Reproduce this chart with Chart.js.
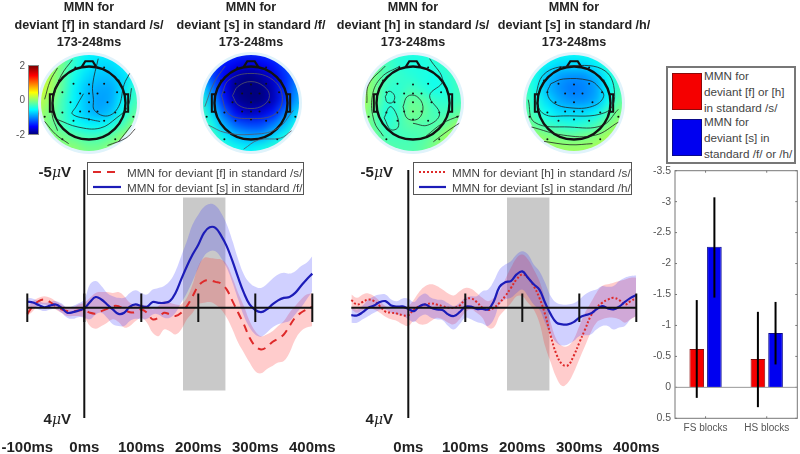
<!DOCTYPE html>
<html>
<head>
<meta charset="utf-8">
<script src="https://cdn.jsdelivr.net/npm/chart.js@4"></script>
<style>
  html, body { margin: 0; background: #fff; }
  #page { position: relative; width: 800px; height: 454px; overflow: hidden; font-family: "Liberation Sans", Arial, sans-serif; filter: blur(0.35px); }
  #page > * { position: absolute; }
  .title { width: 190px; text-align: center; font-weight: bold; font-size: 12.6px; line-height: 17.5px; color: #222; top: -1px; }
  .ylab { font-weight: bold; font-size: 15px; color: #222; white-space: nowrap; width: 60px; text-align: right; }
  .ylab i { font-family: "DejaVu Serif", serif; font-weight: normal; font-size: 14px; }
  .legend { border: 1px solid #555; background: #fff; height: 33px; box-sizing: border-box; font-size: 11.7px; color: #444; }
  .legend div { position: absolute; white-space: nowrap; line-height: 15px; }
  .legend svg { position: absolute; left: 0; top: 0; }
  .barlegend { left: 666px; top: 66px; width: 130px; height: 98px; box-sizing: border-box; border: 2px solid #777; background: #fff; font-size: 11.7px; color: #444; }
  .barlegend span { position: absolute; white-space: nowrap; left: 36px; line-height: 16px; }
  .swatch { position: absolute; left: 4px; width: 30px; height: 37px; box-sizing: border-box; }
  .cbar { left: 28px; top: 65px; width: 11px; height: 70px; box-sizing: border-box; border: 1px solid #888;
    background: linear-gradient(to top, #00007f 0%, #0000ff 11%, #00ffff 36%, #ffff00 61%, #ff0000 86%, #7f0000 100%); }
  .cbtick { left: 4px; width: 21px; text-align: right; font-size: 10px; color: #555; }
  .halo { width: 102px; height: 102px; border-radius: 50%; background: #e0f3fb; top: 52px; }
  .disk { width: 96px; height: 96px; border-radius: 50%; overflow: hidden; top: 55px; }
  .disk canvas { position: absolute; left: -10px; top: -10px; filter: blur(5px); }
</style>
</head>
<body>
<div id="page"></div>
<script>
// time axis of the two ERP panels (ms)
const timesMs = [-100,-90,-80,-70,-60,-50,-40,-30,-20,-10,0,10,20,30,40,50,60,70,80,90,100,110,120,130,140,150,160,170,180,190,200,210,220,230,240,250,260,270,280,290,300,310,320,330,340,350,360,370,380,390,400];
const tickMs = [-100,0,100,200,300,400];
const windowMs = [173,248];

// left panel, [f] vs [s] (microvolts, negative up)
const fsBlueMean = [-.22,-.19,-.10,-.02,-.08,-.12,0,.18,.16,.10,.02,-.21,-.39,-.30,-.12,.06,.22,.18,-.04,-.12,-.06,-.04,-.21,-.18,-.18,-.24,-.54,-1.03,-1.51,-1.93,-2.29,-2.72,-2.92,-2.90,-2.62,-2.23,-1.69,-1.09,-.54,-.12,.08,.16,.06,-.12,-.27,-.36,-.39,-.54,-.79,-1.03,-1.24];
const fsBlueUp = [-.36,-.33,-.24,-.18,-.21,-.24,-.16,0,-.06,-.16,-.30,-.85,-.97,-.79,-.54,-.42,-.36,-.36,-.54,-.64,-.54,-.48,-.66,-.72,-.79,-.97,-1.33,-1.87,-2.42,-3.02,-3.38,-3.66,-3.77,-3.71,-3.44,-3.02,-2.42,-1.75,-1.21,-.91,-.76,-.72,-.85,-1.05,-1.21,-1.27,-1.24,-1.33,-1.51,-1.63,-1.87];
const fsBlueLow = [-.06,0,.06,.12,.06,.04,.18,.36,.40,.34,.36,.42,.24,.18,.36,.60,.66,.66,.48,.40,.42,.40,.24,.24,.36,.36,.18,-.18,-.54,-.97,-1.45,-1.87,-2.05,-2.05,-1.81,-1.45,-.91,-.30,.30,.72,.97,1.05,.91,.72,.60,.54,.48,.24,0,-.30,-.60];
const fsRedMean = [.22,-.06,-.24,-.30,-.21,-.06,.06,.12,.12,.10,.08,.18,.21,.12,.04,-.06,-.06,.06,.16,.16,.06,.18,.42,.36,.18,.24,.30,.18,-.06,-.42,-.79,-.97,-.99,-.94,-.88,-.66,-.24,.18,.60,1.09,1.39,1.51,1.43,1.24,1.12,.97,.66,.36,.18,.06,-.04];
const fsRedUp = [0,-.24,-.36,-.42,-.36,-.24,-.12,0,0,-.12,-.18,-.36,-.54,-.57,-.57,-.54,-.57,-.42,-.18,-.12,-.12,-.06,.06,-.06,-.24,-.18,-.12,-.12,-.36,-.85,-1.51,-1.81,-1.81,-1.78,-1.75,-1.57,-1.09,-.54,-.06,.48,.85,1.03,.97,.85,.66,.48,.18,-.06,-.30,-.48,-.54];
const fsRedLow = [.30,.12,-.12,-.12,-.06,.06,.18,.30,.30,.30,.36,.66,.76,.66,.54,.42,.52,.72,.66,.48,.36,.54,.91,1.03,.79,.85,.97,.79,.42,.18,-.12,-.18,-.21,-.12,.06,.36,.79,1.27,1.63,1.99,2.30,2.38,2.23,2.11,1.99,1.93,1.63,1.15,.85,.72,.66];

// right panel, [h] vs [s]
const hsBlueMean = [.27,.28,.16,0,-.08,-.21,-.24,-.08,-.04,-.05,.04,.12,-.06,-.12,0,.06,.08,.24,.30,.16,-.04,-.04,.04,.04,.06,-.24,-.76,-.93,-.97,-1.21,-1.32,-1.09,-.85,-.66,-.18,.24,.54,.60,.60,.52,.36,.27,.21,.06,-.06,.02,.06,-.04,-.21,-.36,-.46];
const hsBlueUp = [-.04,.06,-.08,-.30,-.42,-.48,-.48,-.30,-.24,-.34,-.33,-.21,-.42,-.52,-.36,-.30,-.28,-.16,-.06,-.18,-.36,-.42,-.42,-.60,-.66,-.97,-1.39,-1.57,-1.69,-1.93,-2.05,-1.93,-1.57,-1.33,-.91,-.42,-.18,-.12,-.12,-.16,-.30,-.48,-.60,-.66,-.79,-.76,-.79,-.97,-1.09,-1.15,-1.17];
const hsBlueLow = [.54,.54,.42,.30,.18,.08,.06,.18,.24,.27,.42,.52,.33,.24,.36,.42,.45,.66,.79,.60,.36,.42,.52,.57,.66,.42,-.12,-.30,-.36,-.54,-.66,-.42,-.12,.06,.54,.97,1.27,1.37,1.33,1.21,1.03,1.00,.97,.79,.66,.66,.79,.72,.66,.42,.30];
const hsRedMean = [-.28,-.12,-.21,-.30,-.24,-.06,.14,.18,.21,.27,.27,.06,-.06,-.12,-.16,-.12,-.06,0,0,-.08,-.30,-.34,-.21,0,.08,0,-.18,-.42,-.72,-1.03,-1.21,-1.09,-.79,-.36,.24,1.03,1.69,2.05,2.09,1.75,1.27,.79,.30,0,-.18,-.30,-.36,-.28,-.12,-.24,-.36];
const hsRedUp = [-.48,-.36,-.48,-.52,-.42,-.24,-.06,.04,.04,.04,-.06,-.30,-.60,-.79,-.85,-.79,-.66,-.52,-.45,-.60,-.72,-.69,-.54,-.36,-.24,-.36,-.60,-1.03,-1.45,-1.81,-1.93,-1.75,-1.39,-.97,-.30,.54,1.15,1.39,1.39,1.15,.66,.18,-.18,-.54,-.79,-.85,-.91,-.97,-1.03,-1.09,-1.09];
const hsRedLow = [.06,.18,.08,0,.06,.18,.33,.42,.48,.60,.66,.48,.60,.60,.48,.36,.42,.54,.60,.42,.16,.06,.18,.36,.72,.72,.30,.06,-.16,-.42,-.42,-.18,.06,.54,1.39,1.99,2.54,2.84,2.72,2.36,1.87,1.39,.91,.54,.42,.36,.36,.42,.54,.42,.30];

// bar panel
const barCategories = ["FS blocks","HS blocks"];
const barRed = [-0.62,-0.46];
const barBlue = [-2.27,-0.88];
const barRedErr = [[-1.41,0.17],[-1.22,0.32]];
const barBlueErr = [[-3.07,-1.45],[-1.38,-0.37]];
const barTicks = [-3.5,-3,-2.5,-2,-1.5,-1,-0.5,0,0.5];

// topographies: potential on a 9x9 grid, rows top to bottom
const gridCols = [-1.3,-.975,-.65,-.325,0,.325,.65,.975,1.3];
const gridRows = [1.3,.975,.65,.325,0,-.325,-.65,-.975,-1.3];
const map1 = [
  [.1,.1,-.2,-.4,-.6,-.6,-.6,-.6,-.5],
  [.2,.1,-.1,-.4,-.6,-.7,-.7,-.6,-.5],
  [.3,.1,-.2,-.5,-.7,-.8,-.8,-.7,-.5],
  [.3,.1,-.2,-.6,-.8,-.9,-.9,-.7,-.4],
  [.2,0,-.3,-.6,-.8,-.95,-.9,-.6,-.3],
  [.1,-.1,-.3,-.6,-.8,-.9,-.8,-.5,-.2],
  [0,-.1,-.3,-.5,-.6,-.6,-.5,-.3,0],
  [0,0,-.1,-.2,-.3,-.3,-.2,0,.1],
  [0,0,0,0,-.1,-.1,0,.1,.1]];
const map2 = [
  [-1.2,-1.2,-1.3,-1.4,-1.4,-1.4,-1.3,-1.2,-1.1],
  [-1.1,-1.3,-1.5,-1.6,-1.7,-1.6,-1.5,-1.3,-1.1],
  [-.9,-1.3,-1.6,-1.9,-2,-1.9,-1.7,-1.4,-1.1],
  [-.6,-1.1,-1.6,-2,-2.1,-2,-1.8,-1.4,-1],
  [-.4,-.9,-1.5,-1.9,-2.1,-2,-1.8,-1.4,-.9],
  [-.3,-.7,-1.2,-1.6,-1.8,-1.7,-1.5,-1.1,-.7],
  [-.2,-.5,-.9,-1.2,-1.3,-1.3,-1.1,-.8,-.5],
  [-.1,-.3,-.6,-.8,-.9,-.9,-.7,-.5,-.3],
  [0,-.2,-.4,-.5,-.6,-.5,-.4,-.3,-.2]];
const map3 = [
  [0,-.1,-.3,-.4,-.45,-.45,-.4,-.3,-.3],
  [.1,-.1,-.3,-.4,-.45,-.45,-.4,-.35,-.3],
  [.1,-.1,-.3,-.35,-.4,-.45,-.5,-.4,-.3],
  [.1,-.1,-.35,-.4,-.3,-.4,-.5,-.45,-.3],
  [.1,-.1,-.4,-.35,-.15,-.2,-.35,-.4,-.3],
  [.05,-.2,-.45,-.35,-.1,-.15,-.3,-.3,-.2],
  [0,-.2,-.4,-.3,-.2,-.25,-.25,-.15,.05],
  [0,-.1,-.3,-.3,-.3,-.25,-.15,.05,.2],
  [0,-.1,-.2,-.25,-.25,-.2,-.05,.15,.25]];
const map4 = [
  [-.3,-.4,-.5,-.5,-.55,-.5,-.5,-.4,-.3],
  [-.3,-.4,-.6,-.7,-.7,-.7,-.6,-.4,-.3],
  [-.3,-.5,-.8,-.95,-1,-1,-.85,-.55,-.3],
  [-.3,-.5,-.85,-1,-1.1,-1.05,-.95,-.6,-.3],
  [-.2,-.45,-.7,-.9,-1,-1,-.9,-.55,-.2],
  [-.15,-.35,-.55,-.7,-.7,-.7,-.6,-.3,-.05],
  [-.05,-.2,-.35,-.4,-.45,-.4,-.3,-.1,.05],
  [.1,.05,-.05,-.1,-.15,-.1,-.05,.1,.2],
  [.2,.15,.1,.05,.05,.05,.1,.2,.25]];

// contour traces, in head radii
const contours1 = [
  [[-.45,1.17],[-.75,.75],[-.95,.2],[-1,-.3],[-.85,-.75]],
  [[-.85,.95],[-1.05,.6],[-1.2,.1]],
  [[.25,1.2],[.1,.5],[.12,.1],[.15,-.2],[.5,-.35],[.8,-.1],[.95,.5],[1.1,.8]],
  [[-.15,.25],[-.35,-.1],[-.45,-.3],[.05,-.45],[.3,-.5]],
  [[-.85,-.45],[-.3,-.65],[.3,-.68],[.75,-.4],[1.05,-.1],[1.15,.4]],
  [[.8,-1.05],[1.15,-.6]],
  [[.5,-1.15],[1,-.95],[1.25,-.7]],
  [[-1.2,-.5],[-.9,-.85],[-.55,-1.1]]
];
const contours2 = [
  [[-.5,.2],[-.35,.45],[0,.58],[.35,.45],[.5,.2],[.35,-.05],[0,-.15],[-.35,-.05],[-.5,.2]],
  [[-.8,.2],[-.6,.62],[0,.8],[.6,.62],[.85,.15],[.65,-.3],[0,-.42],[-.6,-.3],[-.8,.2]],
  [[-1.25,-.1],[-1,.55],[-.7,1]],
  [[-1.15,-.6],[-.7,-.8],[0,-.85],[.7,-.7],[1.15,-.2]],
  [[-.2,-1.25],[.2,-1],[.8,-.95],[1.1,-.75]]
];
const contours3 = [
  [[-.27,-.1],[-.15,.18],[.1,.18],[.27,-.1],[.15,-.42],[-.15,-.42],[-.27,-.1]],
  [[-.75,.17],[-.65,.32],[-.5,.2],[-.55,.02],[-.7,.02],[-.75,.17]],
  [[-.78,-.4],[-.62,-.1],[-.45,-.3],[-.4,-.65],[-.6,-.72],[-.78,-.4]],
  [[.45,1.2],[.8,.6],[.45,.2],[.72,-.3],[.4,-.6],[0,-.55]],
  [[-.35,1],[-.85,.7],[-1.1,.2],[-1.05,-.5],[-.8,-.9]],
  [[-.75,1],[-1.2,.5],[-1.25,0]],
  [[.35,-.9],[.8,-.55],[1.25,-.35]],
  [[.55,-1.05],[.95,-.75],[1.25,-.55]]
];
const contours4 = [
  [[-.63,.52],[-.29,.65],[.41,.61],[.67,.43],[.8,.17],[.5,-.09],[-.11,-.13],[-.55,0],[-.72,.26],[-.63,.52]],
  [[-1.07,.09],[-.81,.78],[-.11,1],[.84,.87],[1.1,.17],[.84,-.26],[-.29,-.35],[-.81,-.3],[-1.07,.09]],
  [[-1.24,.09],[-1.07,-.52],[-.11,-.65],[.76,-.61],[1.2,-.17]],
  [[-1.15,-.65],[-.29,-.87],[.58,-.87],[1.2,-.52]],
  [[-.81,-1.04],[-.11,-1.13],[.5,-1.1]]
];

const electrodes = [[-.42,.52],[0,.5],[.41,.52],[-.24,.26],[0,.26],[.23,.26],[.76,.29],[-.72,.29],[-.5,.02],[0,.02],[.5,.02],[-.72,-.26],[-.24,-.23],[0,-.23],[.23,-.23],[.71,-.26],[-.42,-.48],[0,-.45],[.41,-.48],[-.81,.61],[.8,.61],[-1.2,-.37],[1.2,-.37],[-.72,-.98],[.71,-.98],[-.37,.96],[.41,.96]];
const nose = [[-.2,.97],[-.1,1.13],[.1,1.13],[.2,.97]];
const earLeft = [[-.95,.24],[-1.06,.24],[-1.06,-.24],[-.95,-.24]];
const earRight = [[.95,.24],[1.06,.24],[1.06,-.24],[.95,-.24]];

const page = document.getElementById("page");
function addEl(cls, style, html) {
  const d = document.createElement("div");
  d.className = cls;
  d.style.cssText = style;
  if (html !== undefined) d.innerHTML = html;
  page.appendChild(d);
  return d;
}
function addCanvas(parent, style, w, h) {
  const c = document.createElement("canvas");
  c.width = w; c.height = h;
  c.style.cssText = "width:" + w + "px;height:" + h + "px;" + style;
  parent.appendChild(c);
  return c;
}

// jet colormap over -2..2
function jet(v) {
  const t = Math.max(0, Math.min(1, (v + 2) / 4));
  const stops = [[0,0,0,127],[.11,0,0,255],[.36,0,255,255],[.61,255,255,0],[.86,255,0,0],[1,127,0,0]];
  for (let i = 1; i < stops.length; i++) {
    if (t <= stops[i][0]) {
      const a = stops[i-1], b = stops[i], f = (t - a[0]) / (b[0] - a[0]);
      return "rgb(" + [1,2,3].map(k => Math.round(a[k] + (b[k]-a[k]) * f)).join(",") + ")";
    }
  }
  return "rgb(127,0,0)";
}

const hiddenXY = () => ({
  x: { type: "linear", display: false, min: -1.57, max: 1.57 },
  y: { type: "linear", display: false, min: -1.57, max: 1.57 }
});
const noPlugins = { legend: { display: false }, tooltip: { enabled: false } };

function drawMap(center, grid, traces, traceColor) {
  addEl("halo", "left:" + (center - 51) + "px");
  const disk = addEl("disk", "left:" + (center - 48) + "px");

  const cells = [], colors = [];
  gridRows.forEach((ry, r) => gridCols.forEach((cx, c) => {
    cells.push({ x: cx, y: ry });
    colors.push(jet(grid[r][c]));
  }));
  new Chart(addCanvas(disk, "", 116, 116), {
    type: "scatter",
    data: { datasets: [{ data: cells, pointStyle: "rect", pointRadius: 12, pointBackgroundColor: colors, pointBorderWidth: 0, clip: false }] },
    options: { responsive: false, animation: false, events: [], layout: { autoPadding: false }, plugins: noPlugins, scales: hiddenXY() }
  });

  const toXY = pts => pts.map(p => ({ x: p[0], y: p[1] }));
  const line = (pts, color, width, tension) => ({ type: "line", data: toXY(pts), borderColor: color, borderWidth: width, pointRadius: 0, tension: tension, fill: false, clip: false });
  const sets = traces.map(t => line(t, traceColor, 0.8, 0.4));
  sets.push(line(nose, "#111", 2.2, 0));
  sets.push(line(earLeft, "#111", 2, 0));
  sets.push(line(earRight, "#111", 2, 0));
  sets.push({ type: "scatter", data: [{ x: 0, y: 0 }], pointRadius: 36.5, pointBackgroundColor: "transparent", pointBorderColor: "#111", pointBorderWidth: 2.4, clip: false });
  sets.push({ type: "scatter", data: toXY(electrodes), pointRadius: 1, pointBackgroundColor: "#111", pointBorderWidth: 0 });
  new Chart(addCanvas(page, "left:" + (center - 58) + "px;top:45px;", 116, 116), {
    type: "scatter",
    data: { datasets: sets },
    options: { responsive: false, animation: false, events: [], layout: { autoPadding: false }, plugins: noPlugins, scales: hiddenXY() }
  });
}

function drawErp(left, canvasW, series, ticks, hideFirstLabel) {
  const xy = arr => arr.map((v, i) => ({ x: timesMs[i], y: v }));
  const sets = [];
  const axisLine = pts => ({ data: pts, borderColor: "#111", borderWidth: 2, pointRadius: 0, tension: 0, clip: false, order: 0 });
  const band = (up, low, color, order) => {
    const idx = sets.length;
    sets.push({ data: xy(up), borderWidth: 0, pointRadius: 0, tension: 0.4, order: order, fill: false, clip: false });
    sets.push({ data: xy(low), borderWidth: 0, pointRadius: 0, tension: 0.4, order: order, fill: { target: idx }, backgroundColor: color, clip: false });
  };
  // grey analysis window
  const winIdx = sets.length;
  sets.push({ data: windowMs.map(t => ({ x: t, y: -4 })), borderWidth: 0, pointRadius: 0, order: 9, fill: false });
  sets.push({ data: windowMs.map(t => ({ x: t, y: 3 })), borderWidth: 0, pointRadius: 0, order: 9, fill: { target: winIdx }, backgroundColor: "#c9c9c9" });
  band(series.redUp, series.redLow, "rgba(255,40,40,0.24)", 6);
  band(series.blueUp, series.blueLow, "rgba(40,40,255,0.22)", 5);
  sets.push({ data: xy(series.redMean), borderColor: "#de2a2a", borderWidth: series.redWidth, borderDash: series.redDash, pointRadius: 0, tension: 0.4, order: 2, fill: false, clip: false });
  sets.push({ data: xy(series.blueMean), borderColor: "#1c1cb8", borderWidth: 2.2, pointRadius: 0, tension: 0.4, order: 1, fill: false, clip: false });
  sets.push(axisLine([{ x: -100, y: 0 }, { x: 400, y: 0 }]));
  sets.push(axisLine([{ x: 0, y: -5 }, { x: 0, y: 4 }]));
  ticks.forEach(t => sets.push(axisLine([{ x: t, y: -0.52 }, { x: t, y: 0.52 }])));

  const padLeft = 27.3;
  new Chart(addCanvas(page, "left:" + left + "px;top:150px;", canvasW, 304), {
    type: "line",
    data: { datasets: sets },
    options: {
      responsive: false, animation: false, events: [],
      layout: { autoPadding: false, padding: { left: padLeft, right: canvasW - padLeft - 285, top: 20, bottom: 0 } },
      plugins: noPlugins,
      scales: {
        x: {
          type: "linear", min: -100, max: 400,
          afterFit: s => { s.height = 36; s.paddingLeft = 0; s.paddingRight = 0; },
          afterBuildTicks: s => { s.ticks = tickMs.map(v => ({ value: v })); },
          grid: { display: false, drawTicks: false }, border: { display: false },
          ticks: {
            autoSkip: false, maxRotation: 0, padding: 21, color: "#222",
            font: { family: "'Liberation Sans'", size: 15, weight: "bold" },
            callback: v => (hideFirstLabel && v === -100) ? null : v + "ms"
          }
        },
        y: { display: false, reverse: true, min: -5, max: 4 }
      }
    }
  });
}

function drawBars() {
  const framePlugin = {
    id: "frame",
    afterDatasetsDraw(chart) {
      const { ctx, chartArea: a, scales: { x, y } } = chart;
      ctx.save();
      ctx.strokeStyle = "#777"; ctx.lineWidth = 1;
      ctx.strokeRect(a.left, a.top, a.right - a.left, a.bottom - a.top);
      barTicks.forEach(v => {
        const py = y.getPixelForValue(v);
        ctx.beginPath();
        ctx.moveTo(a.left, py); ctx.lineTo(a.left + 2, py);
        ctx.moveTo(a.right, py); ctx.lineTo(a.right - 2, py);
        ctx.stroke();
      });
      barCategories.forEach((c, i) => {
        const px = x.getPixelForValue(i);
        ctx.beginPath();
        ctx.moveTo(px, a.top); ctx.lineTo(px, a.top + 2);
        ctx.moveTo(px, a.bottom); ctx.lineTo(px, a.bottom - 2);
        ctx.stroke();
      });
      ctx.strokeStyle = "#999";
      ctx.beginPath();
      ctx.moveTo(a.left, y.getPixelForValue(0)); ctx.lineTo(a.right, y.getPixelForValue(0));
      ctx.stroke();
      // error bars sit on top of the bars
      ctx.strokeStyle = "#000"; ctx.lineWidth = 2;
      [barRedErr, barBlueErr].forEach((errs, d) => {
        chart.getDatasetMeta(d).data.forEach((bar, i) => {
          ctx.beginPath();
          ctx.moveTo(bar.x, y.getPixelForValue(errs[i][0]));
          ctx.lineTo(bar.x, y.getPixelForValue(errs[i][1]));
          ctx.stroke();
        });
      });
      ctx.restore();
    }
  };
  new Chart(addCanvas(page, "left:640px;top:160px;", 160, 294), {
    type: "bar",
    data: {
      labels: barCategories,
      datasets: [
        { data: barRed, backgroundColor: "#f50000", borderColor: "#8a0a0a", borderWidth: 1 },
        { data: barBlue, backgroundColor: "#0000f0", borderColor: "#0a0a8a", borderWidth: 1 }
      ]
    },
    plugins: [framePlugin],
    options: {
      responsive: false, animation: false, events: [],
      categoryPercentage: 0.577, barPercentage: 0.83,
      layout: { autoPadding: false, padding: { left: 0, right: 2.7, top: 10.7, bottom: 0 } },
      plugins: noPlugins,
      scales: {
        x: {
          afterFit: s => { s.height = 35.7; s.paddingLeft = 0; s.paddingRight = 0; },
          grid: { display: false, drawTicks: false }, border: { display: false },
          ticks: { color: "#555", padding: 4, font: { family: "'Liberation Sans'", size: 10 } }
        },
        y: {
          reverse: true, min: -3.5, max: 0.5,
          afterFit: s => { s.width = 35; },
          afterBuildTicks: s => { s.ticks = barTicks.map(v => ({ value: v })); },
          grid: { display: false, drawTicks: false }, border: { display: false },
          ticks: { color: "#555", padding: 4, font: { family: "'Liberation Sans'", size: 10.5 }, callback: v => String(v) }
        }
      }
    }
  });
}

// titles
[
  [89, "deviant [f] in standard /s/"],
  [251, "deviant [s] in standard /f/"],
  [413, "deviant [h] in standard /s/"],
  [574, "deviant [s] in standard /h/"]
].forEach(t => addEl("title", "left:" + (t[0] - 95) + "px", "MMN for<br>" + t[1] + "<br>173-248ms"));

// colour bar
addEl("cbar", "");
addEl("cbtick", "top:60px", "2");
addEl("cbtick", "top:94px", "0");
addEl("cbtick", "top:129px", "-2");

drawMap(89, map1, contours1, "#222");
drawMap(251, map2, contours2, "#556");
drawMap(413, map3, contours3, "#222");
drawMap(574, map4, contours4, "#222");

drawErp(0, 344, { redUp: fsRedUp, redLow: fsRedLow, redMean: fsRedMean, blueUp: fsBlueUp, blueLow: fsBlueLow, blueMean: fsBlueMean, redWidth: 2, redDash: [8, 6] }, tickMs, false);
drawErp(323.7, 344, { redUp: hsRedUp, redLow: hsRedLow, redMean: hsRedMean, blueUp: hsBlueUp, blueLow: hsBlueLow, blueMean: hsBlueMean, redWidth: 2, redDash: [2, 2] }, tickMs.slice(2), true);
drawBars();

// y labels of the ERP panels
addEl("ylab", "left:11px;top:163px", "-5<i>&mu;</i>V");
addEl("ylab", "left:11px;top:410px", "4<i>&mu;</i>V");
addEl("ylab", "left:333px;top:163px", "-5<i>&mu;</i>V");
addEl("ylab", "left:333px;top:410px", "4<i>&mu;</i>V");

// line legends
function lineLegend(left, width, textX, dash, color, label1, label2) {
  const sampleW = textX - 6;
  addEl("legend", "left:" + left + "px;top:162px;width:" + width + "px",
    '<svg width="' + width + '" height="32">' +
    '<line x1="5" y1="9" x2="' + sampleW + '" y2="9" stroke="' + color + '" stroke-width="2" stroke-dasharray="' + dash + '"/>' +
    '<line x1="5" y1="24" x2="' + sampleW + '" y2="24" stroke="#1c1cb8" stroke-width="2.2"/></svg>' +
    '<div style="left:' + textX + 'px;top:2px">' + label1 + '</div>' +
    '<div style="left:' + textX + 'px;top:17px">' + label2 + '</div>');
}
lineLegend(87, 217, 39, "8 6", "#de2a2a", "MMN for deviant [f] in standard /s/", "MMN for deviant [s] in standard /f/");
lineLegend(413, 219, 38, "2 2", "#de2a2a", "MMN for deviant [h] in standard /s/", "MMN for deviant [s] in standard /h/");

// bar legend
addEl("barlegend", "",
  '<div class="swatch" style="top:5px;background:#f50000;border:1px solid #8a0a0a"></div>' +
  '<div class="swatch" style="top:51px;background:#0000f0;border:1px solid #0a0a8a"></div>' +
  '<span style="top:0px">MMN for</span><span style="top:16px">deviant [f] or [h]</span><span style="top:32px">in standard /s/</span>' +
  '<span style="top:46px">MMN for</span><span style="top:62px">deviant [s] in</span><span style="top:78px">standard /f/ or /h/</span>');
</script>
</body>
</html>
